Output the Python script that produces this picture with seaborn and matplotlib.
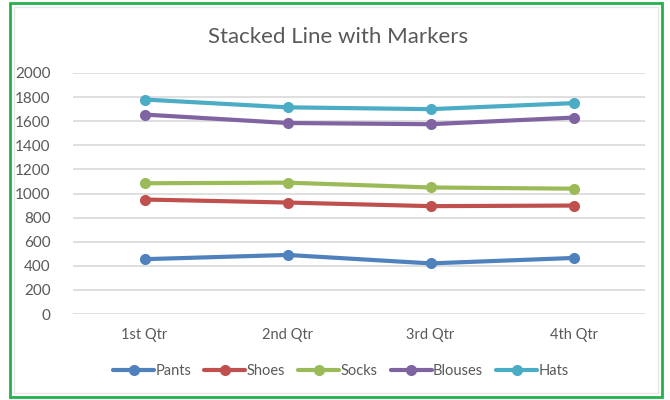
import matplotlib
matplotlib.use("Agg")
import matplotlib.pyplot as plt
from matplotlib.patches import Rectangle
import numpy as np
import pandas as pd
import seaborn as sns

# Quarterly values per product (each series stacks on the ones before it)
quarters = ["1st Qtr", "2nd Qtr", "3rd Qtr", "4th Qtr"]
pants = [455, 490, 420, 465]
shoes = [495, 435, 475, 435]
socks = [135, 165, 155, 140]
blouses = [570, 495, 525, 590]
hats = [125, 130, 125, 120]

series_names = ["Pants", "Shoes", "Socks", "Blouses", "Hats"]
series_values = [pants, shoes, socks, blouses, hats]
colors = ["#4F81BD", "#C0504D", "#9BBB59", "#8064A2", "#4BACC6"]
y_ticks = [0, 200, 400, 600, 800, 1000, 1200, 1400, 1600, 1800, 2000]

sns.set_theme(style="white")
plt.rcParams["font.family"] = ["Lato", "DejaVu Sans"]

# Build a long table of cumulative (stacked) totals
stacked = np.cumsum(np.array(series_values), axis=0)
rows = []
for name, vals in zip(series_names, stacked):
    for q, v in zip(quarters, vals):
        rows.append({"Quarter": q, "Product": name, "Total": v})
df = pd.DataFrame(rows)
df["pos"] = df["Quarter"].map({q: i for i, q in enumerate(quarters)})

fig = plt.figure(figsize=(6.7, 4.0), dpi=100)
fig.patch.set_facecolor("white")
ax = fig.add_axes([73 / 670, 1 - 314 / 400, (645 - 73) / 670, (314 - 73) / 400])

sns.lineplot(
    data=df, x="pos", y="Total", hue="Product", hue_order=series_names,
    palette=colors, marker="o", markersize=8, markeredgewidth=0,
    linewidth=3, ax=ax, legend=False, clip_on=False, zorder=3,
)

ax.set_xlim(-0.5, 3.5)
ax.set_ylim(0, 2000)
ax.set_yticks(y_ticks)
ax.set_yticklabels([str(t) for t in y_ticks])
ax.set_xticks(range(len(quarters)))
ax.set_xticklabels(quarters)
ax.set_xlabel("")
ax.set_ylabel("")
ax.grid(axis="y", color="#D9D9D9", linewidth=1.2)
ax.grid(axis="x", visible=False)
for s in ax.spines.values():
    s.set_visible(False)
ax.tick_params(axis="y", length=0, pad=16, labelsize=11, labelcolor="#595959")
ax.tick_params(axis="x", length=0, pad=10, labelsize=10.5, labelcolor="#595959")

fig.text(338 / 670, 1 - 37 / 400, "Stacked Line with Markers", ha="center",
         va="center", fontsize=16, color="#595959")

handles = [
    plt.Line2D([0], [0], color=c, linewidth=3, marker="o", markersize=8,
               markeredgewidth=0)
    for c in colors
]
fig.legend(handles, series_names, loc="center", bbox_to_anchor=(341 / 670, 1 - 371 / 400),
           ncol=5, frameon=False, fontsize=10.5, labelcolor="#595959",
           handlelength=2.8, handletextpad=0.1, columnspacing=0.9)

# Outer green frame and faint inner chart border
fig.add_artist(Rectangle((10 / 670, 3 / 400), 652 / 670, 394 / 400,
                         transform=fig.transFigure, fill=False,
                         edgecolor="#22B14C", linewidth=2))
fig.add_artist(Rectangle((14 / 670, 7 / 400), 644 / 670, 386 / 400,
                         transform=fig.transFigure, fill=False,
                         edgecolor="#E6E6E6", linewidth=1))

fig.savefig("out.png", dpi=100, facecolor="white")
